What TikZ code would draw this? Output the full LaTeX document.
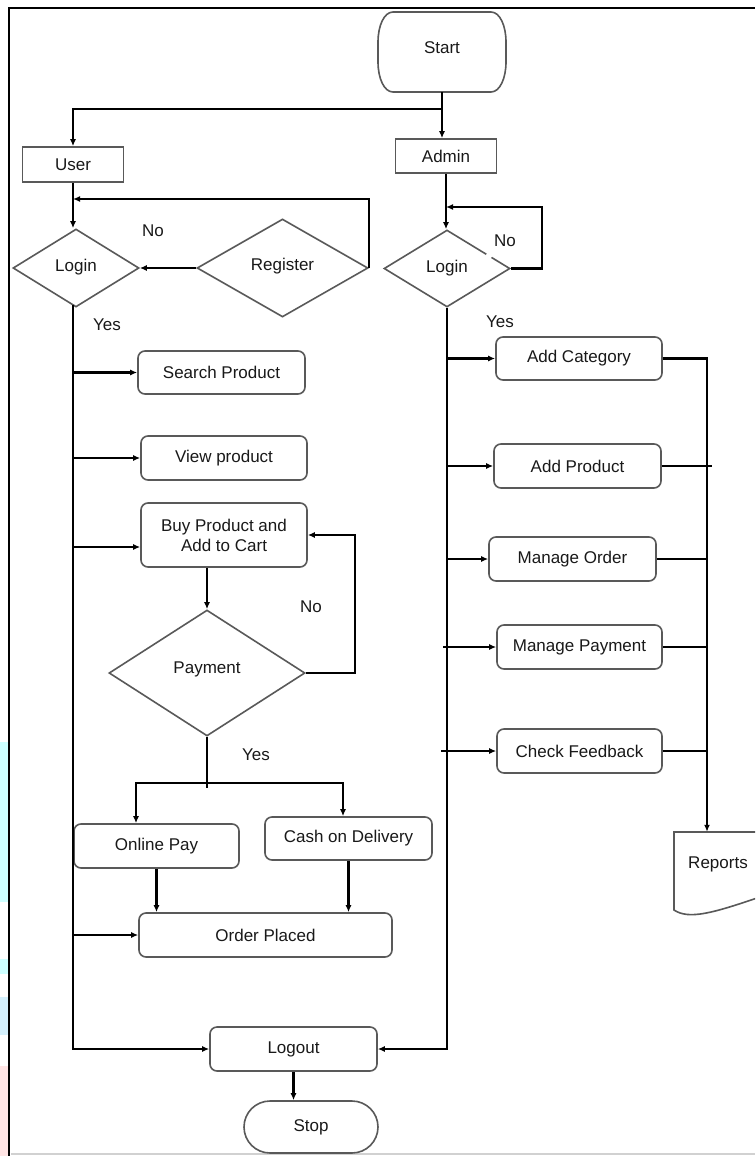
\documentclass[tikz,border=0pt]{standalone}
\usepackage{fontspec}
\setmainfont{Liberation Sans}
\usetikzlibrary{arrows.meta,shapes.geometric}
\definecolor{stripcyan}{HTML}{CCFFFF}
\definecolor{stripblue}{HTML}{D4F0FC}
\definecolor{strippink}{HTML}{FFE4E4}
\begin{document}
\begin{tikzpicture}[x=1pt,y=-1pt,
  txt/.style={font=\fontsize{17}{20}\selectfont, text=black!90},
  wh/.style 2 args={minimum width=#1pt, minimum height=#2pt},
  liftby/.style={text height=12.3pt, text depth=#1},
  rbox/.style={txt, draw=black!65, line width=1.6pt, rounded corners=7pt, inner sep=0pt, align=center},
  sbox/.style={txt, draw=black!65, line width=1.6pt, inner sep=0pt},
  dec/.style={txt, draw=black!65, line width=1.6pt, shape=diamond, inner sep=0pt},
  conn/.style={line width=2.5pt, black},
  arr/.style={conn, -{Latex[length=7pt,width=6pt]}},
  lbl/.style={txt, inner sep=0pt}]

\useasboundingbox (0,0) rectangle (755,1156);
\fill[white] (0,0) rectangle (755,1156);
\clip (0,0) rectangle (755,1156);

% edge tints
\fill[stripcyan] (0,742) rectangle (8,902);
\fill[stripcyan] (0,959) rectangle (8,974);
\fill[stripblue] (0,997) rectangle (8,1035);
\fill[strippink] (0,1066) rectangle (8,1156);

% frame
\draw[line width=2.2pt] (9,1156) -- (9,8) -- (755,8);
\draw[black!18, line width=1.5pt] (11,1154) -- (755,1154);

% Start
\draw[draw=black!65, line width=1.6pt] (393,12) -- (491,12)
  .. controls (500,12) and (506,26) .. (506,42) -- (506,62)
  .. controls (506,78) and (500,92) .. (491,92) -- (393,92)
  .. controls (384,92) and (378,78) .. (378,62) -- (378,42)
  .. controls (378,26) and (384,12) .. (393,12) -- cycle;
\node[txt, inner sep=0pt, wh={128}{80}, liftby=10pt] (start) at (442,52) {Start};

% User / Admin
\node[sbox, wh={101}{35}] (user) at (73,164.5) {User};
\node[sbox, wh={101}{34}] (admin) at (446,156) {Admin};

% Decisions top
\node[dec, wh={126}{78}, liftby=6pt] (ulogin) at (76,268) {Login};
\node[dec, wh={171}{98}, liftby=8pt] (register) at (282.5,268) {Register};
\node[dec, wh={126}{77}] (alogin) at (447,268.5) {Login};
\draw[white, line width=3.5pt] (486.5,254.1) -- (491.5,257.2);

% User side boxes
\node[rbox, wh={167}{43}] (search) at (221.5,372.5) {Search Product};
\node[rbox, wh={166}{44}] (view) at (224,458) {View product};
\node[rbox, wh={166}{64}] (buy) at (224,535) {Buy Product and\\Add to Cart};
\node[dec, wh={196}{126}, liftby=12pt] (payment) at (207,673) {Payment};
\node[rbox, wh={165}{44}] (online) at (156.5,846) {Online Pay};
\node[rbox, wh={167}{43}] (cash) at (348.5,838.5) {Cash on Delivery};
\node[rbox, wh={253}{44}] (order) at (265.5,935) {Order Placed};
\node[rbox, wh={167}{44}, liftby=4pt] (logout) at (293.5,1049) {Logout};
\node[rbox, rounded corners=26pt, wh={134}{52}] (stop) at (311,1127) {Stop};

% Admin side boxes
\node[rbox, wh={166}{43}] (addcat) at (579,358.5) {Add Category};
\node[rbox, wh={167}{44}] (addprod) at (577.5,466) {Add Product};
\node[rbox, wh={167}{44}] (mord) at (572.5,559) {Manage Order};
\node[rbox, wh={165}{44}] (mpay) at (579.5,647) {Manage Payment};
\node[rbox, wh={165}{44}] (chk) at (579.5,751) {Check Feedback};

% Reports document
\draw[draw=black!65, line width=1.6pt] (762,832) -- (674,832) -- (674,910)
  .. controls (689,920) and (713,913) .. (760,897);
\node[txt, inner sep=0pt, wh={84}{80}, liftby=20pt] (reports) at (718,872) {Reports};

% labels
\node[lbl] (no1) at (153,231) {No};
\node[lbl] (no2) at (505,241) {No};
\node[lbl] (yes1) at (107,325) {Yes};
\node[lbl] (yes2) at (500,322) {Yes};
\node[lbl] (no3) at (311,607) {No};
\node[lbl] (yes3) at (256,755) {Yes};

% coordinates
\coordinate (br) at (442,109);
\coordinate (rlend) at (73,199);
\coordinate (ar) at (542,207);
\coordinate (lv) at (73,305);
\coordinate (buyin) at ([yshift=-12pt]buy.west);
\coordinate (pl) at (355,535);
\coordinate (pb) at (207,783);
\coordinate (pbl) at (136,783);
\coordinate (pbr) at (343,783);
\coordinate (mpst) at (443,647);
\coordinate (chst) at (441,751);
\coordinate (coll) at (707,358.5);
\coordinate (collx) at (712,466);

% connectors: top
\draw[conn] (start.south) -- (br);
\draw[arr] (br) -| (user.north);
\draw[arr] (br) -- (br |- admin.north);
\draw[arr] (user.south) -- (user.south |- ulogin.north);
\draw[arr] (register.west) -- (ulogin.east);
\draw[arr] (register.east) |- (rlend);
\draw[arr] (admin.south) -- (admin.south |- alogin.north);
\draw[arr] (alogin.east) -| (ar) -- (ar -| admin.south);

% user side
\draw[arr] (lv) |- (logout.west);
\draw[arr] (lv |- search.west) -- (search.west);
\draw[arr] (lv |- view.west) -- (view.west);
\draw[arr] (lv |- buyin) -- (buyin);
\draw[arr] (lv |- order.west) -- (order.west);
\draw[arr] (buy.south -| payment.north) -- (payment.north);
\draw[arr] (payment.east) -| (pl) -- (buy.east);
\draw[conn] (payment.south) -- ([yshift=-5pt]pb);
\draw[arr] (pb) -- (pbl) -- (pbl |- online.north);
\draw[arr] (pb) -- (pbr) -- (pbr |- cash.north);
\draw[arr] (online.south) -- (online.south |- order.north);
\draw[arr] (cash.south) -- (cash.south |- order.north);
\draw[arr] (logout.south) -- (logout.south |- stop.north);

% admin side
\draw[arr] (alogin.south) |- (logout.east);
\draw[arr] (alogin.south |- addcat.west) -- (addcat.west);
\draw[arr] (alogin.south |- addprod.west) -- (addprod.west);
\draw[arr] (alogin.south |- mord.west) -- (mord.west);
\draw[arr] (mpst) -- (mpay.west);
\draw[arr] (chst) -- (chk.west);
\draw[arr] (addcat.east) -- (coll) -- (coll |- reports.north);
\draw[conn] (addprod.east) -- (collx);
\draw[conn] (mord.east) -- (coll |- mord.east);
\draw[conn] (mpay.east) -- (coll |- mpay.east);
\draw[conn] (chk.east) -- (coll |- chk.east);
\end{tikzpicture}
\end{document}
